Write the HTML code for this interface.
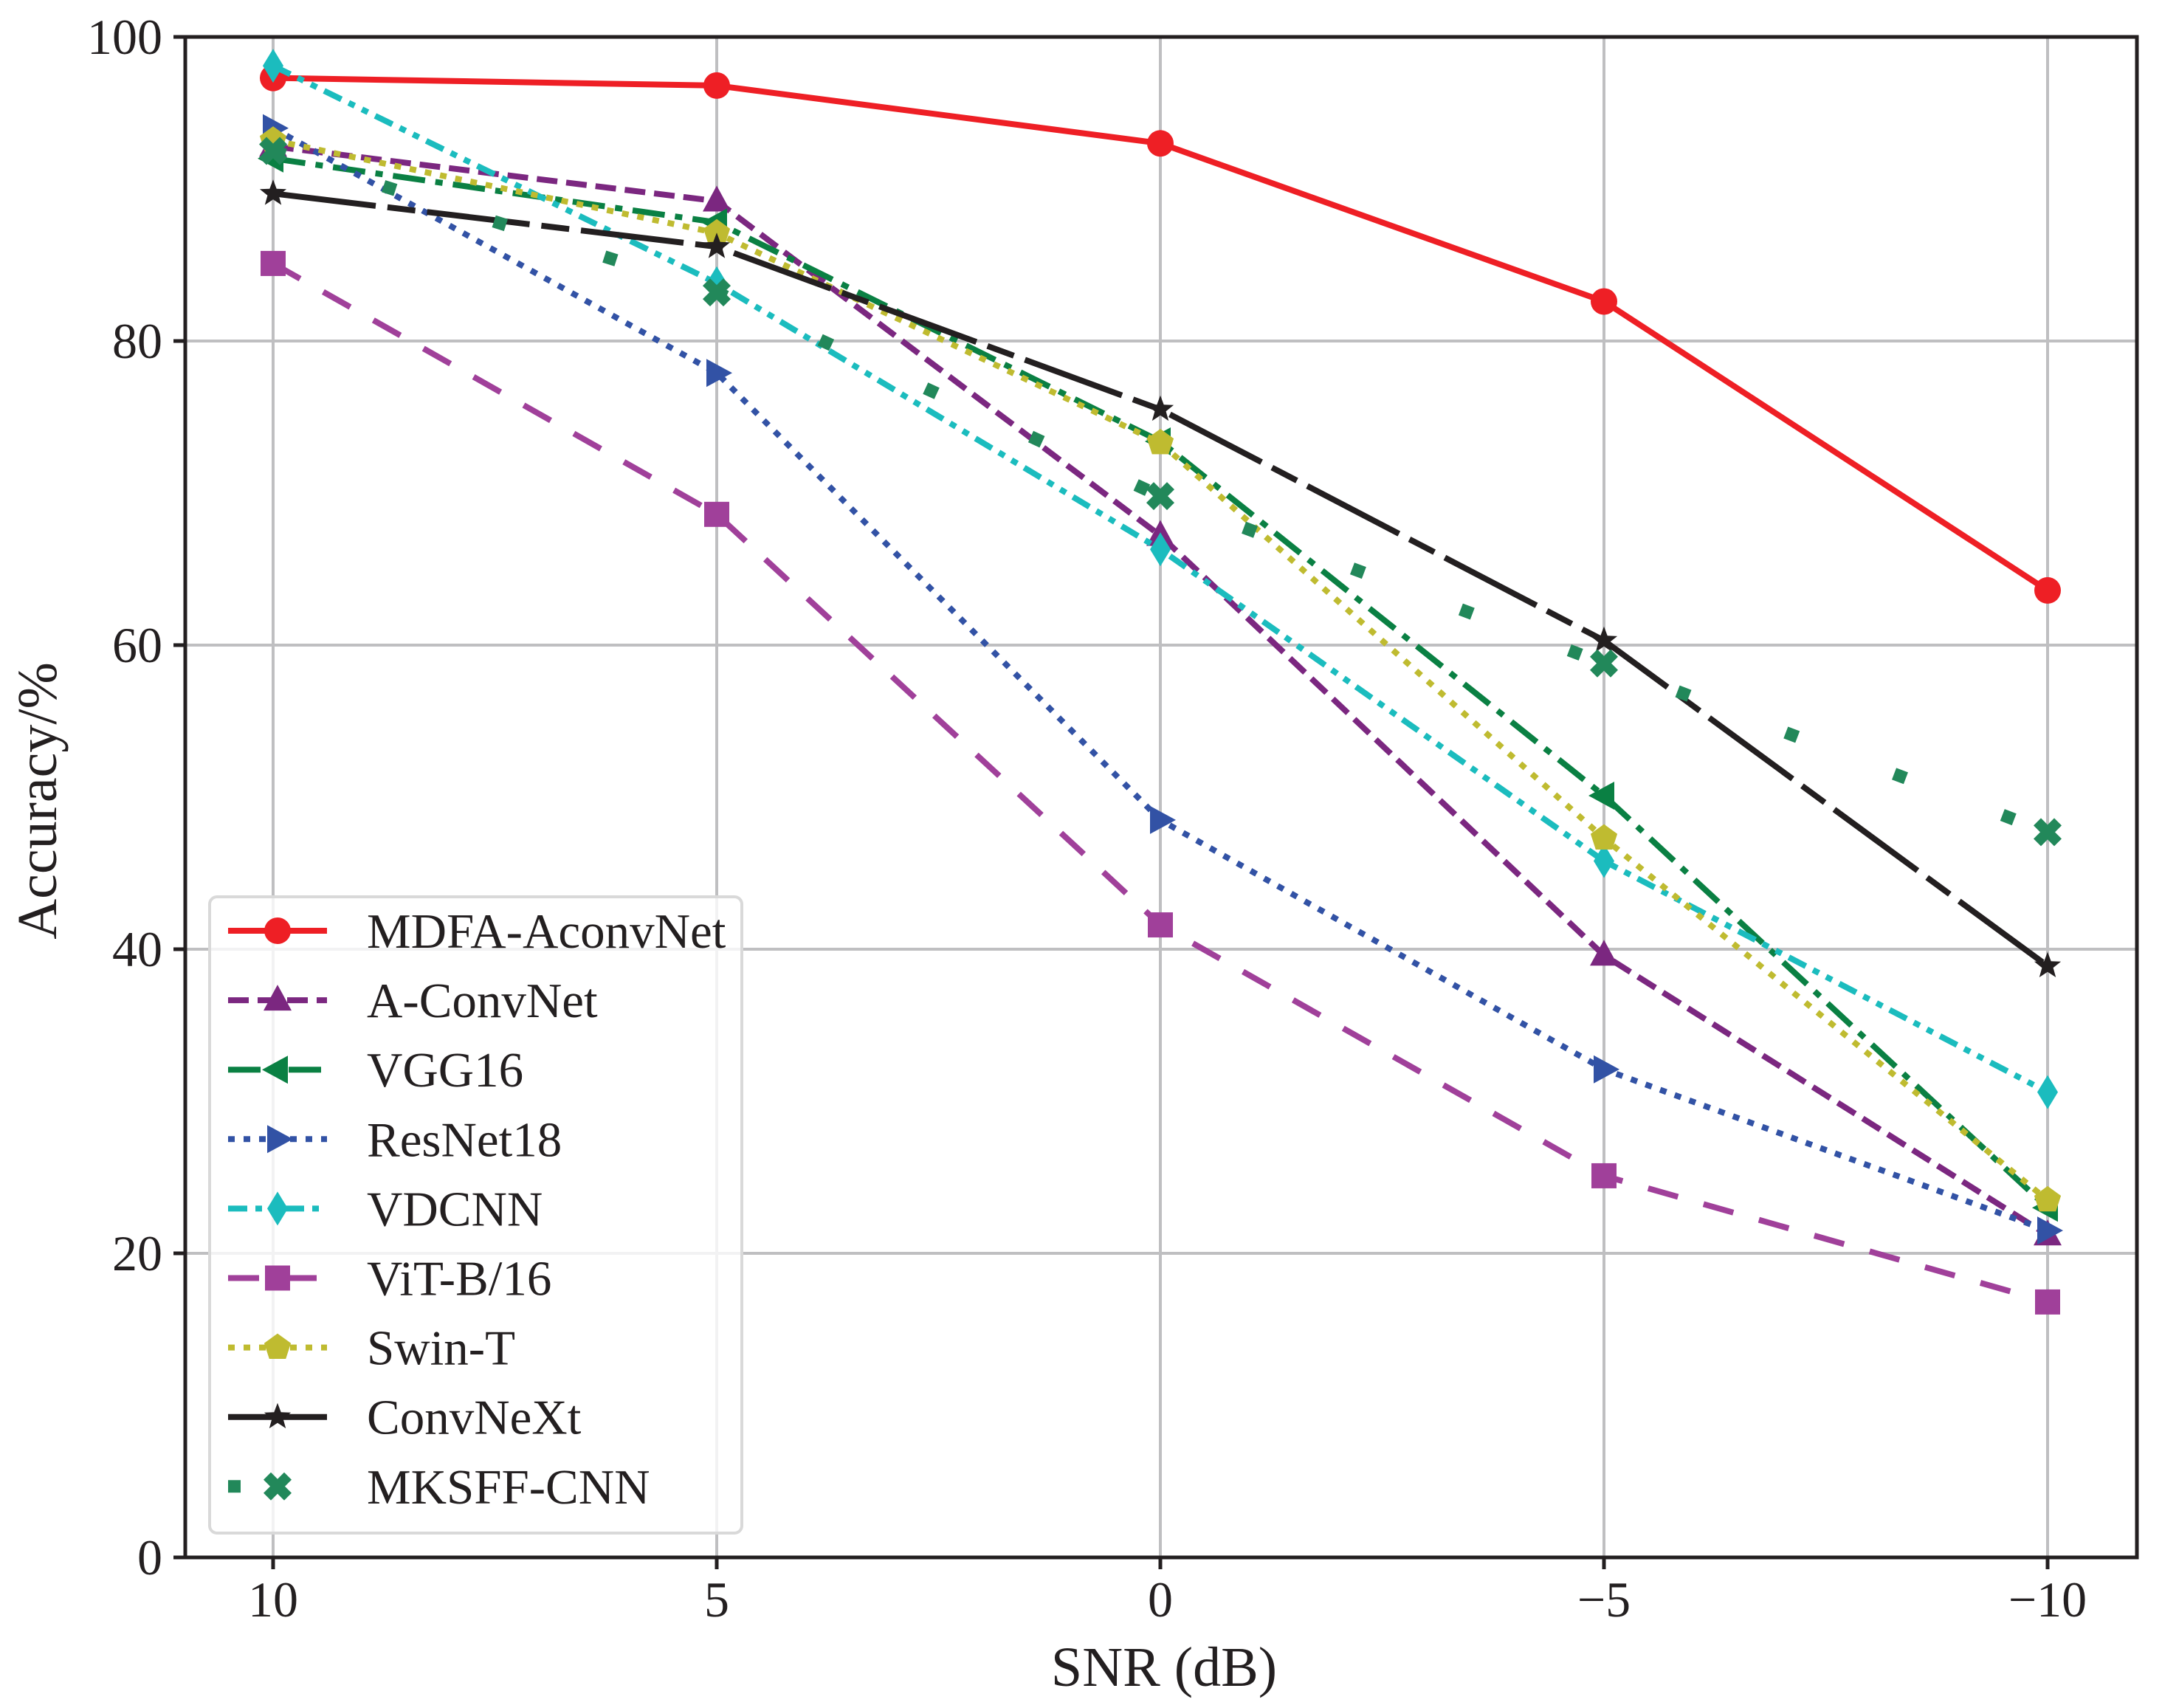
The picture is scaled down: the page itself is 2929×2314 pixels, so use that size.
<!DOCTYPE html>
<html><head><meta charset="utf-8"><style>
html,body{margin:0;padding:0;background:#fff}
svg{display:block;font-family:"Liberation Serif",serif}
</style></head><body>
<svg id="chart" width="2929" height="2314" viewBox="0 0 2929 2314" xmlns="http://www.w3.org/2000/svg">
<g id="grid"></g>
<g id="series"></g>
<rect x="251" y="50" width="2644" height="2060" fill="none" stroke="#231f20" stroke-width="5"/>
<g id="ticks"></g>
<text x="1577" y="2284" font-size="76" text-anchor="middle" fill="#231f20">SNR (dB)</text>
<text x="0" y="0" font-size="76" text-anchor="middle" fill="#231f20" transform="translate(76,1085) rotate(-90)">Accuracy/%</text>
<g id="legend"></g>
</svg>
<script>
const categories = [10, 5, 0, -5, -10];
const xTickLabels = ["10", "5", "0", "\u22125", "\u221210"];
const yTicks = [0, 20, 40, 60, 80, 100];
const seriesNames = ["MDFA-AconvNet","A-ConvNet","VGG16","ResNet18","VDCNN","ViT-B/16","Swin-T","ConvNeXt","MKSFF-CNN"];
const mdfaValues = [97.3, 96.8, 93.0, 82.6, 63.6];
const aconvValues = [92.8, 89.2, 67.2, 39.6, 21.2];
const vggValues = [92.0, 87.8, 73.4, 50.1, 23.0];
const resnetValues = [94.0, 77.9, 48.5, 32.1, 21.5];
const vdcnnValues = [98.1, 83.8, 66.3, 45.8, 30.6];
const vitValues = [85.1, 68.6, 41.6, 25.1, 16.8];
const swinValues = [93.2, 87.1, 73.3, 47.3, 23.5];
const convnextValues = [89.7, 86.2, 75.5, 60.3, 38.9];
const mksffValues = [92.5, 83.2, 69.8, 58.8, 47.7];

const NS = "http://www.w3.org/2000/svg";
const X0 = 370, XSTEP = 601, YB = 2110, YT = 50;
function xs(i){ return X0 + i * XSTEP; }
function ys(v){ return YB - (v / 100) * (YB - YT); }
function mk(tag, attrs, parent){ const e = document.createElementNS(NS, tag); for (const k in attrs) e.setAttribute(k, attrs[k]); parent.appendChild(e); return e; }

const styles = [
 {c:"#ee1f25", dash:"", m:"circle", w:8},
 {c:"#7b2780", dash:"28 12", m:"triup", w:8},
 {c:"#0a8043", dash:"44 14 10 14", m:"trileft", w:8},
 {c:"#3252a5", dash:"9 12", m:"triright", w:8},
 {c:"#1bbcbe", dash:"26 11 9 11 9 11", m:"diamond", w:8},
 {c:"#a0409a", dash:"42 36", m:"square", w:8},
 {c:"#bfbb30", dash:"9 12", m:"pentagon", w:8},
 {c:"#231f20", dash:"140 16 38 16", m:"star", w:8},
 {c:"#22885a", dash:"17 140", m:"x", w:17}
];
const allValues = [mdfaValues, aconvValues, vggValues, resnetValues, vdcnnValues, vitValues, swinValues, convnextValues, mksffValues];

function marker(type, cx, cy, color, parent){
  const r = 18; let el;
  if (type === "circle") el = mk("circle", {cx:cx, cy:cy, r:r}, parent);
  else if (type === "square") el = mk("rect", {x:cx-17, y:cy-17, width:34, height:34}, parent);
  else if (type === "diamond") el = mk("polygon", {points:`${cx},${cy-23} ${cx+14},${cy} ${cx},${cy+23} ${cx-14},${cy}`}, parent);
  else if (type === "triup") el = mk("polygon", {points:`${cx},${cy-21} ${cx+19},${cy+14} ${cx-19},${cy+14}`}, parent);
  else if (type === "trileft") el = mk("polygon", {points:`${cx-21},${cy} ${cx+14},${cy-19} ${cx+14},${cy+19}`}, parent);
  else if (type === "triright") el = mk("polygon", {points:`${cx+21},${cy} ${cx-14},${cy-19} ${cx-14},${cy+19}`}, parent);
  else if (type === "pentagon") { let p=[]; for(let k=0;k<5;k++){const a=-Math.PI/2+k*2*Math.PI/5; p.push((cx+19*Math.cos(a)).toFixed(1)+","+(cy+19*Math.sin(a)).toFixed(1));} el = mk("polygon", {points:p.join(" ")}, parent); }
  else if (type === "star") { let p=[]; for(let k=0;k<10;k++){const a=-Math.PI/2+k*Math.PI/5; const rr=k%2?8:19; p.push((cx+rr*Math.cos(a)).toFixed(1)+","+(cy+rr*Math.sin(a)).toFixed(1));} el = mk("polygon", {points:p.join(" ")}, parent); }
  else if (type === "x") { el = mk("path", {d:`M${cx-9},${cy-19} L${cx},${cy-10} L${cx+9},${cy-19} L${cx+19},${cy-9} L${cx+10},${cy} L${cx+19},${cy+9} L${cx+9},${cy+19} L${cx},${cy+10} L${cx-9},${cy+19} L${cx-19},${cy+9} L${cx-10},${cy} L${cx-19},${cy-9} Z`}, parent); }
  el.setAttribute("fill", color);
  return el;
}

const grid = document.getElementById("grid"), ticks = document.getElementById("ticks");
categories.forEach((c, i) => {
  const g = mk("line", {x1:xs(i), x2:xs(i), y1:YT, y2:YB, stroke:"#bfbfc1", "stroke-width":4}, grid);
  
  
  mk("line", {x1:xs(i), x2:xs(i), y1:YB, y2:YB+16, stroke:"#231f20", "stroke-width":5}, ticks);
  const t = mk("text", {x:xs(i), y:2190, "font-size":68, "text-anchor":"middle", fill:"#231f20"}, ticks);
  t.textContent = xTickLabels[i];
  
  
});
yTicks.forEach(v => {
  const g = mk("line", {x1:251, x2:2895, y1:ys(v), y2:ys(v), stroke:"#bfbfc1", "stroke-width":4}, grid);
  
  
  mk("line", {x1:235, x2:251, y1:ys(v), y2:ys(v), stroke:"#231f20", "stroke-width":5}, ticks);
  const t = mk("text", {x:220, y:ys(v)+23, "font-size":68, "text-anchor":"end", fill:"#231f20"}, ticks);
  t.textContent = String(v);
  
  
});

const sl = document.getElementById("series");
allValues.forEach((vals, s) => {
  const st = styles[s];
  const g = mk("g", {}, sl);
  
  
  const pts = vals.map((v, i) => xs(i) + "," + ys(v)).join(" ");
  const line = mk("polyline", {points:pts, fill:"none", stroke:st.c, "stroke-width":st.w, "stroke-linejoin":"round"}, g);
  if (st.dash) line.setAttribute("stroke-dasharray", st.dash);
  
  
  vals.forEach((v, i) => {
    const m = marker(st.m, xs(i), ys(v), st.c, g);
    
    
  });
});

const lg = document.getElementById("legend");
const box = mk("rect", {x:284, y:1215, width:721, height:862, rx:10, fill:"#ffffff", "fill-opacity":0.8, stroke:"#d9d9d9", "stroke-width":4}, lg);


seriesNames.forEach((n, s) => {
  const st = styles[s]; const y = 1261 + s * 94.1;
  const g = mk("g", {}, lg);
  
  
  const l = mk("line", {x1:309, x2:443, y1:y, y2:y, stroke:st.c, "stroke-width":st.w}, g);
  if (st.dash) l.setAttribute("stroke-dasharray", st.dash);
  marker(st.m, 376, y, st.c, g);
  const t = mk("text", {x:497, y:y+23, "font-size":67, fill:"#231f20"}, g);
  t.textContent = n;
});
</script>
</body></html>
